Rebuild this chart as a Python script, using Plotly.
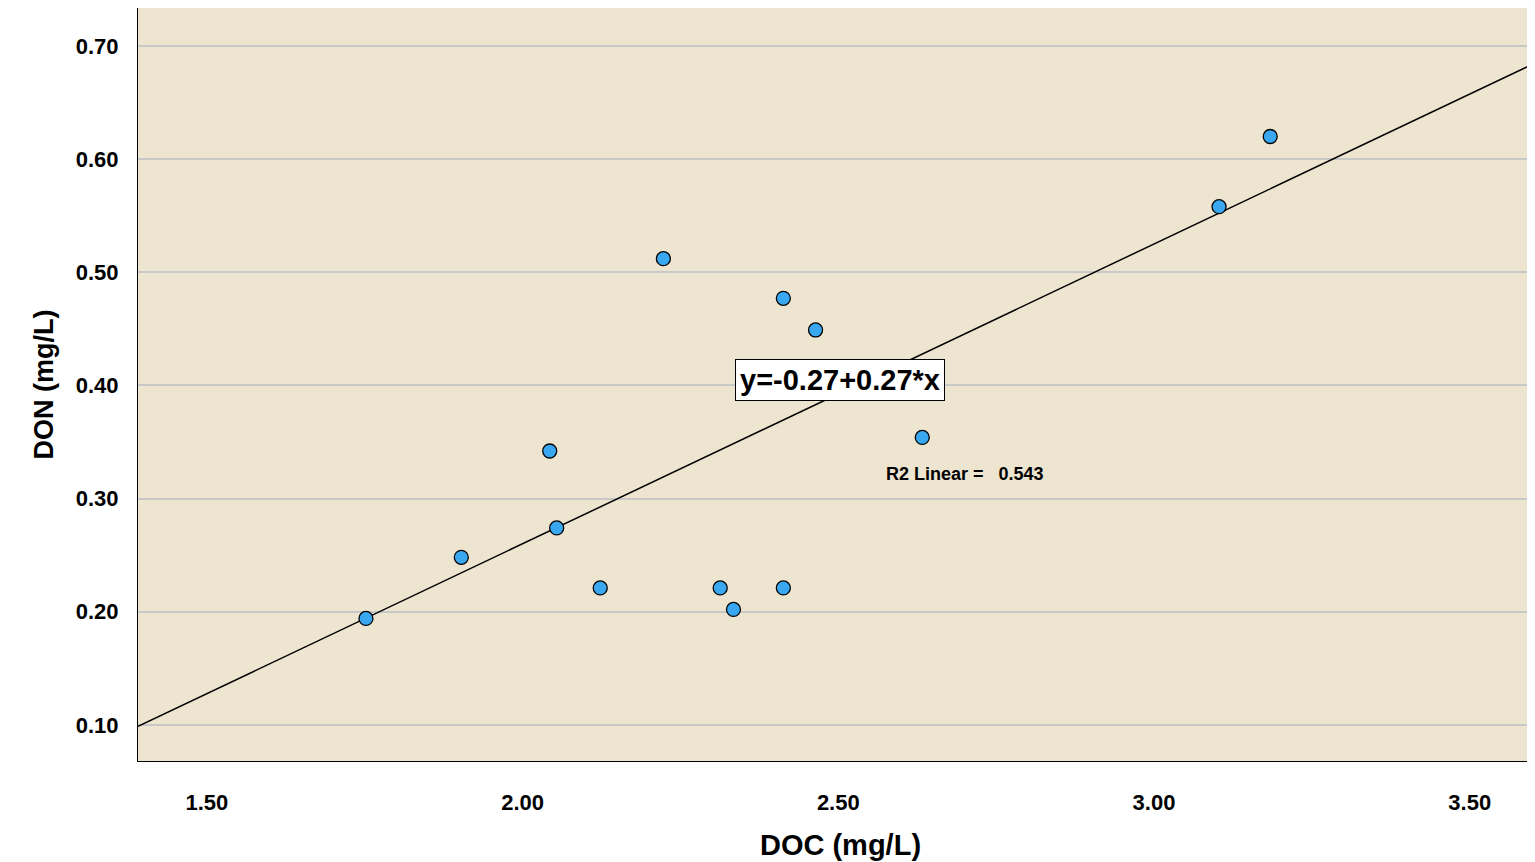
import plotly.graph_objects as go

doc = [1.752, 1.903, 2.043, 2.054, 2.123, 2.223, 2.313, 2.334, 2.413, 2.413, 2.464, 2.633, 3.103, 3.184]
don = [0.194, 0.248, 0.342, 0.274, 0.221, 0.512, 0.221, 0.202, 0.477, 0.221, 0.449, 0.354, 0.558, 0.620]
fit_intercept = -0.270
fit_slope = 0.265
x_range = [1.391, 3.616]
y_range = [0.068, 0.7336]
tick_vals_x = [1.5, 2.0, 2.5, 3.0, 3.5]
tick_vals_y = [0.1, 0.2, 0.3, 0.4, 0.5, 0.6, 0.7]

fig = go.Figure()
fig.add_trace(go.Scatter(
    x=x_range, y=[fit_intercept + fit_slope * v for v in x_range],
    mode="lines", line=dict(color="black", width=1.5), hoverinfo="skip"))
fig.add_trace(go.Scatter(
    x=doc, y=don, mode="markers",
    marker=dict(size=14, color="#3aa8f0", line=dict(color="black", width=1.3))))

fig.add_annotation(x=2.503, y=0.405, text="<b>y=-0.27+0.27*x</b>", showarrow=False,
                   font=dict(size=29, color="black"), bgcolor="white",
                   bordercolor="black", borderwidth=1, borderpad=4)
fig.add_annotation(x=2.70, y=0.322, text="<b>R2 Linear =   0.543</b>", showarrow=False,
                   font=dict(size=18, color="black"))

fig.update_layout(
    width=1535, height=862, showlegend=False,
    margin=dict(l=130, r=0, t=0, b=109),
    plot_bgcolor="#ede5d0", paper_bgcolor="white",
    font=dict(family="Liberation Sans, Arial, sans-serif", color="black"),
)
fig.update_xaxes(range=x_range, tickvals=tick_vals_x, tickformat=".2f", automargin=False,
                 showgrid=False, zeroline=False, showline=True, linecolor="black",
                 tickfont=dict(size=22, weight="bold"), ticklabelstandoff=22,
                 title=dict(text="DOC (mg/L)", font=dict(size=29, weight="bold"), standoff=20))
fig.update_yaxes(range=y_range, tickvals=tick_vals_y, tickformat=".2f", automargin=False,
                 showgrid=True, gridcolor="#c8c8c8", gridwidth=1.5, zeroline=False,
                 showline=True, linecolor="black",
                 tickfont=dict(size=22, weight="bold"), ticklabelstandoff=14,
                 title=dict(text="DON (mg/L)", font=dict(size=27, weight="bold"), standoff=14))

fig.write_html("out.html")
